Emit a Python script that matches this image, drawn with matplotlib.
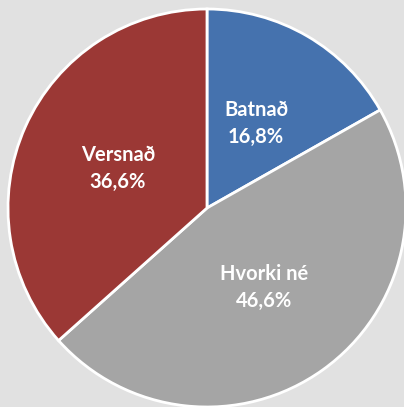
import matplotlib
matplotlib.use("Agg")
import matplotlib.pyplot as plt
import numpy as np

labels = ["Batnað", "Hvorki né", "Versnað"]
values = [16.8, 46.6, 36.6]
colors = ["#4572ae", "#a5a5a5", "#9b3835"]

fig = plt.figure(figsize=(4.04, 4.07), dpi=100, facecolor="#e1e1e1")
ax = fig.add_axes([8/404, 1 - (208+199)/407, 398/404, 398/407])
ax.set_facecolor("#e1e1e1")

def fmt(lbl, v):
    return f"{lbl}\n{v:.1f}%".replace(".", ",")

wedges, texts = ax.pie(values, colors=colors, startangle=90, counterclock=False,
                       wedgeprops=dict(edgecolor="white", linewidth=2))
for w, lbl, v in zip(wedges, labels, values):
    mid = np.deg2rad((w.theta1 + w.theta2) / 2)
    r = 0.49
    ax.text(r*np.cos(mid), r*np.sin(mid), fmt(lbl, v), ha="center", va="center",
            color="white", fontsize=14.5, fontweight="bold", family="Lato", linespacing=1.45)
ax.set_xlim(-1, 1)
ax.set_ylim(-1, 1)
ax.set_aspect("equal")
ax.axis("off")
fig.savefig("out.png", dpi=100, facecolor=fig.get_facecolor())
